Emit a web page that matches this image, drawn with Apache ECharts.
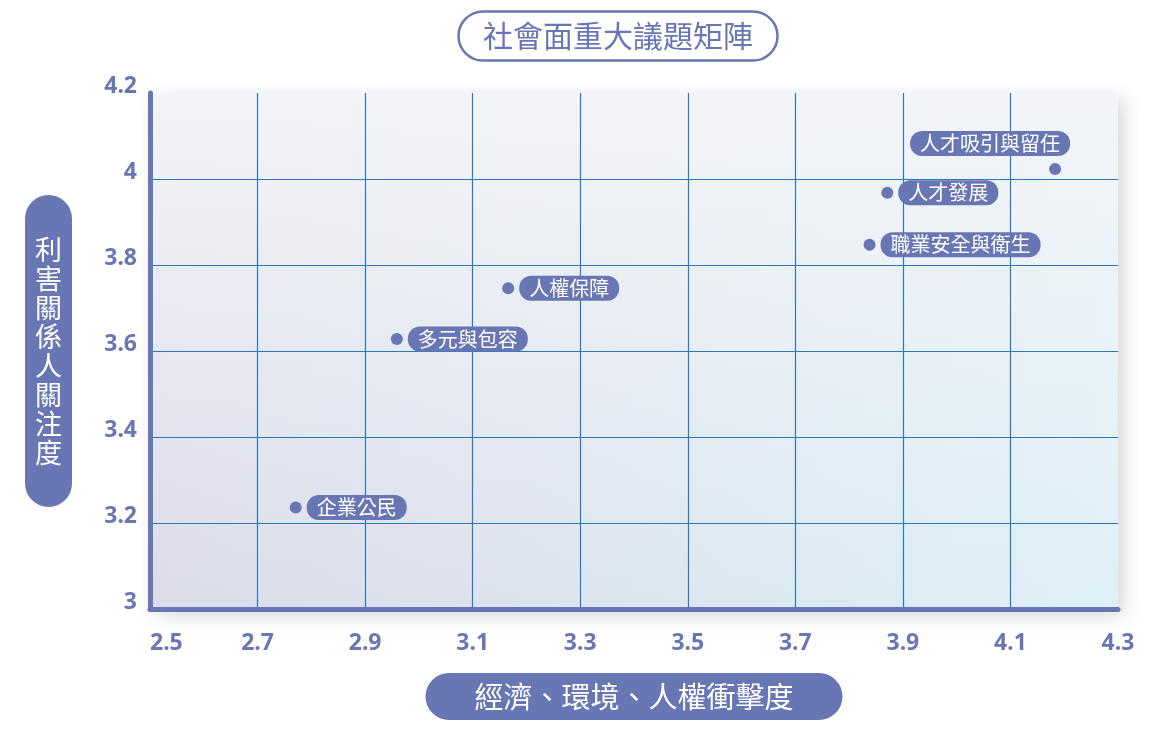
<!DOCTYPE html>
<html lang="zh-Hant">
  <head>
    <meta charset="UTF-8" />
    <title>社會面重大議題矩陣</title>
    <script src="https://cdn.jsdelivr.net/npm/echarts@6/dist/echarts.min.js"></script>
    <style>
      html, body { margin: 0; padding: 0; background: #fff; }
    </style>
  </head>
  <body>
    <div id="main" style="width: 1171px; height: 734px"></div>
    <script type="text/javascript">
      // 議題與座標 (經濟環境人權衝擊度, 利害關係人關注度)
      var topics = ["人才吸引與留任", "人才發展", "職業安全與衛生", "人權保障", "多元與包容", "企業公民"];
      var impact = [4.183, 3.871, 3.838, 3.166, 2.959, 2.771];
      var concern = [4.023, 3.968, 3.847, 3.746, 3.628, 3.236];

      var xMin = 2.5, xMax = 4.3, xStep = 0.2;
      var yMin = 3.0, yMax = 4.2, yStep = 0.2;

      var mainColor = "#6877b3";
      var gridColor = "#2a78bd";

      var myChart = echarts.init(document.getElementById("main"));

      var points = topics.map(function (name, i) {
        var item = { name: name, value: [impact[i], concern[i]] };
        if (i === 0) {
          // 這個標籤放在點的左上方
          item.label = { position: "top", distance: 7, offset: [-65, 0] };
        }
        return item;
      });

      var option = {
        title: {
          text: "社會面重大議題矩陣",
          left: 458,
          top: 11,
          padding: [9, 25, 9, 25],
          borderColor: mainColor,
          borderWidth: 2.5,
          borderRadius: 26,
          backgroundColor: "#fff",
          textStyle: {
            color: mainColor,
            fontSize: 30,
            fontWeight: "normal",
            lineHeight: 32,
            fontFamily: "Noto Sans CJK TC",
          },
        },
        grid: {
          left: 150,
          right: 53,
          top: 93,
          bottom: 125,
        },
        graphic: [
          {
            type: "rect",
            left: 150,
            top: 93,
            z: -10,
            shape: { width: 968, height: 516 },
            style: {
              fill: new echarts.graphic.LinearGradient(0, 0, 1, 0, [
                { offset: 0, color: "#dbdbe9" },
                { offset: 1, color: "#ddf0f7" },
              ]),
              shadowBlur: 18,
              shadowOffsetX: 6,
              shadowOffsetY: 6,
              shadowColor: "rgba(0,0,0,0.16)",
            },
          },
          {
            type: "rect",
            left: 150,
            top: 93,
            z: -9,
            shape: { width: 968, height: 516 },
            style: {
              fill: new echarts.graphic.LinearGradient(0, 0, 0, 1, [
                { offset: 0, color: "rgba(244,245,248,0.95)" },
                { offset: 1, color: "rgba(244,245,248,0)" },
              ]),
            },
          },
        ],
        xAxis: {
          type: "value",
          min: xMin,
          max: xMax,
          interval: xStep,
          name: "經濟、環境、人權衝擊度",
          nameLocation: "middle",
          nameGap: 64,
          nameTextStyle: {
            color: "#fff",
            fontSize: 29,
            lineHeight: 29,
            fontFamily: "Noto Sans CJK TC",
            backgroundColor: mainColor,
            borderRadius: 24,
            padding: [9, 49, 9, 49],
          },
          axisLine: { lineStyle: { color: mainColor, width: 5 } },
          axisTick: { show: false },
          axisLabel: {
            color: mainColor,
            fontSize: 23,
            fontWeight: "bold",
            fontFamily: "Noto Sans",
            margin: 23,
            alignMinLabel: "left",
            formatter: function (v) { return +v.toFixed(1) + ""; },
          },
          splitLine: {
            show: true,
            showMaxLine: false,
            lineStyle: { color: gridColor, width: 1.2 },
          },
        },
        yAxis: {
          type: "value",
          min: yMin,
          max: yMax,
          interval: yStep,
          name: "利\n害\n關\n係\n人\n關\n注\n度",
          nameLocation: "middle",
          nameRotate: 0,
          nameGap: 78,
          nameTextStyle: {
            color: "#fff",
            fontSize: 27,
            lineHeight: 29,
            fontFamily: "Noto Sans CJK TC",
            backgroundColor: mainColor,
            borderRadius: 24,
            padding: [40, 10, 40, 10],
          },
          axisLine: { show: true, lineStyle: { color: mainColor, width: 5 } },
          axisTick: { show: false },
          axisLabel: {
            color: mainColor,
            fontSize: 23,
            fontWeight: "bold",
            fontFamily: "Noto Sans",
            margin: 13,
            lineHeight: 13,
            verticalAlign: "bottom",
            formatter: function (v) { return +v.toFixed(1) + ""; },
          },
          splitLine: {
            show: true,
            showMaxLine: false,
            lineStyle: { color: gridColor, width: 1.2 },
          },
        },
        series: [
          {
            type: "scatter",
            symbolSize: 12,
            itemStyle: { color: mainColor, opacity: 1 },
            data: points,
            label: {
              show: true,
              position: "right",
              distance: 5,
              formatter: "{b}",
              opacity: 1,
              color: "#fff",
              fontSize: 20,
              lineHeight: 21,
              fontFamily: "Noto Sans CJK TC",
              backgroundColor: mainColor,
              borderRadius: 12,
              padding: [2, 10, 2, 10],
            },
          },
        ],
      };
      myChart.setOption(option);
    </script>
  </body>
</html>
